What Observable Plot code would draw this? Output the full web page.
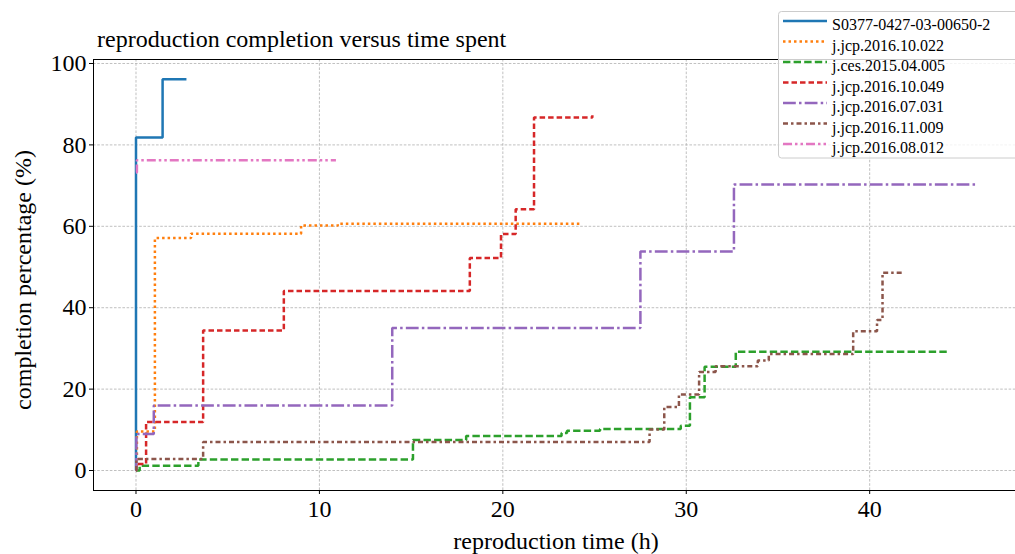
<!DOCTYPE html>
<html><head><meta charset="utf-8">
<script src="https://cdn.jsdelivr.net/npm/d3@7"></script>
<script src="https://cdn.jsdelivr.net/npm/@observablehq/plot@0.6"></script>
<style>body{margin:0;background:#fff;} svg{display:block}</style>
</head><body><div id="chart"></div>
<script>
// ---- data ----
const seriesNames = ["S0377-0427-03-00650-2","j.jcp.2016.10.022","j.ces.2015.04.005","j.jcp.2016.10.049","j.jcp.2016.07.031","j.jcp.2016.11.009","j.jcp.2016.08.012"];
const seriesColors = ["#1f77b4","#ff7f0e","#2ca02c","#d62728","#9467bd","#8c564b","#e377c2"];
const seriesDashes = [null,"2.5,3","7.4,3.2","5.5,3","12.8,3.2,2.5,3.2","5,3,2.5,3","9,3,2.5,3,2.5,3"];

const s0377X = [0, 0, 1.45, 2.75];
const s0377Y = [0, 81.8, 96.1, 96.1];
const jcp10022X = [0, 0.05, 1.03, 3.0, 9.0, 11.0, 24.2];
const jcp10022Y = [0, 9.6, 57.1, 58.2, 60.2, 60.6, 60.6];
const ces04005X = [0, 0.2, 3.4, 15.1, 18.0, 23.2, 23.5, 25.3, 29.7, 30.2, 31.0, 32.7, 44.3];
const ces04005Y = [0, 1.2, 2.7, 7.5, 8.5, 9.2, 9.8, 10.2, 11.0, 18.0, 25.5, 29.2, 29.2];
const jcp10049X = [0, 0.02, 0.55, 3.66, 8.06, 18.2, 19.9, 20.7, 21.7, 24.88];
const jcp10049Y = [0, 1.6, 11.9, 34.4, 44.1, 52.2, 58.1, 64.2, 86.7, 87.3];
const jcp07031X = [0, 0.02, 0.97, 13.97, 27.5, 32.6, 45.9];
const jcp07031Y = [0, 9.0, 16.0, 35.0, 53.8, 70.3, 70.3];
const jcp11009X = [0, 0.02, 3.66, 28.0, 28.8, 29.6, 30.7, 31.6, 33.9, 34.5, 39.1, 40.4, 40.7, 41.8];
const jcp11009Y = [0, 2.85, 7.0, 10.1, 15.6, 18.7, 24.2, 25.6, 27.0, 28.6, 34.2, 37.0, 48.6, 48.6];
const jcp08012X = [0, 0.05, 10.9];
const jcp08012Y = [73.2, 76.2, 76.2];

const xTicks = [0, 10, 20, 30, 40];
const yTicks = [0, 20, 40, 60, 80, 100];

const titleText = "reproduction completion versus time spent";
const xLabel = "reproduction time (h)";
const yLabel = "completion percentage (%)";

// ---- build ----
const allX = [s0377X, jcp10022X, ces04005X, jcp10049X, jcp07031X, jcp11009X, jcp08012X];
const allY = [s0377Y, jcp10022Y, ces04005Y, jcp10049Y, jcp07031Y, jcp11009Y, jcp08012Y];
const series = allX.map((xs, i) => xs.map((x, j) => ({x, y: allY[i][j]})));

const xDom = [-2.317, 47.95];
const yDom = [-4.91, 100.98];
const font = "'Liberation Serif', 'Times New Roman', serif";

const lineMarks = series.map((d, i) => Plot.line(d, {
  x: "x", y: "y", curve: "step-after",
  stroke: seriesColors[i], strokeWidth: 2.5,
  strokeDasharray: seriesDashes[i] || undefined,
  strokeLinecap: "butt", strokeLinejoin: "miter"
}));

const chart = Plot.plot({
  width: 1015, height: 554,
  marginLeft: 93, marginRight: 0, marginTop: 59, marginBottom: 64,
  style: {fontFamily: font, fontSize: "24px", background: "#fff", color: "#000"},
  x: {domain: xDom},
  y: {domain: yDom},
  marks: [
    Plot.gridX(xTicks, {stroke: "#b0b0b0", strokeOpacity: 1, strokeWidth: 0.8, strokeDasharray: "2.6,1.6"}),
    Plot.gridY(yTicks, {stroke: "#b0b0b0", strokeOpacity: 1, strokeWidth: 0.8, strokeDasharray: "2.6,1.6"}),
    ...lineMarks,
    Plot.ruleX([xDom[0]], {stroke: "#000", strokeWidth: 1}),
    Plot.ruleY([yDom[0]], {stroke: "#000", strokeWidth: 1}),
    Plot.ruleY([yDom[1]], {stroke: "#000", strokeWidth: 1}),
    Plot.axisX(xTicks, {tickSize: 4, tickPadding: 5, label: null, fontSize: 24}),
    Plot.axisY(yTicks, {tickSize: 4, tickPadding: 3, label: null, fontSize: 24})
  ]
});

const svg = d3.select(chart);
svg.append("text").attr("x", 97).attr("y", 47).attr("text-anchor", "start").attr("font-size", 24).attr("font-family", font).text(titleText);
svg.append("text").attr("x", 556).attr("y", 549).attr("text-anchor", "middle").attr("font-size", 24).attr("font-family", font).text(xLabel);
svg.append("text").attr("transform", "translate(31,280) rotate(-90)").attr("text-anchor", "middle").attr("font-size", 24).attr("font-family", font).text(yLabel);

// legend
const lg = svg.append("g");
lg.append("rect").attr("x", 778.5).attr("y", 11.5).attr("width", 250).attr("height", 146.5).attr("rx", 3)
  .attr("fill", "#fff").attr("fill-opacity", 0.8).attr("stroke", "#ccc").attr("stroke-width", 1);
seriesNames.forEach((name, i) => {
  const yy = 21 + i * 20.5;
  lg.append("line").attr("x1", 783).attr("x2", 827).attr("y1", yy).attr("y2", yy)
    .attr("stroke", seriesColors[i]).attr("stroke-width", 2.5)
    .attr("stroke-dasharray", seriesDashes[i] || null);
  lg.append("text").attr("x", 832).attr("y", yy + 9).attr("text-anchor", "start").attr("font-size", 16).attr("font-family", font).text(name);
});

document.getElementById("chart").appendChild(chart);
</script>
</body></html>
